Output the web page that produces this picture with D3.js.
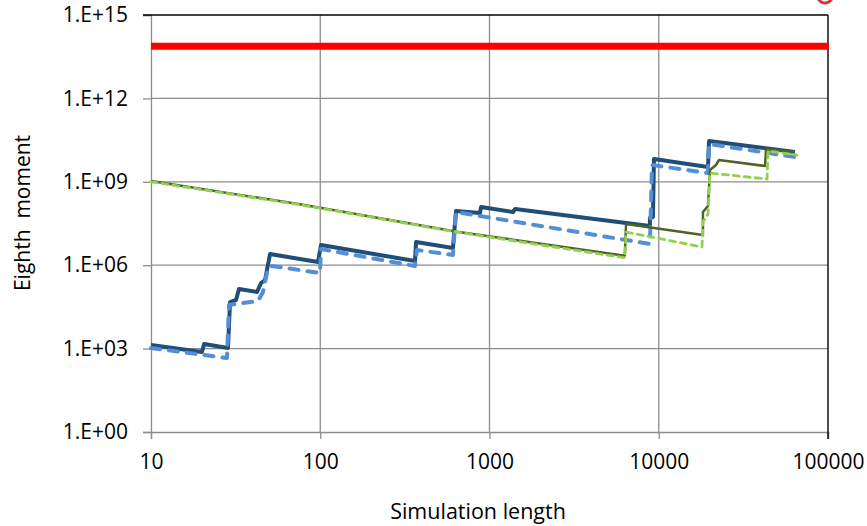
<!DOCTYPE html>
<html>
<head>
<meta charset="utf-8">
<script src="https://cdn.jsdelivr.net/npm/d3@7"></script>
<style>
  body { margin: 0; background: #fff; }
  text { font-family: "Open Sans", sans-serif; fill: #000; }
</style>
</head>
<body>
<svg id="chart" width="867" height="526"></svg>
<script>
// tick values and labels
const xTicks = [10, 100, 1000, 10000, 100000];
const yTicks = [1, 1e3, 1e6, 1e9, 1e12, 1e15];
const yTickLabels = ["1.E+00", "1.E+03", "1.E+06", "1.E+09", "1.E+12", "1.E+15"];

// theoretical level (red line)
const trueMoment = 7.5e13;

// [simulation length, running eighth moment]
const darkBlueSolid = [
  [10, 1350], [20, 755], [20.6, 1460], [28.5, 1050], [29.3, 4.7e4], [31.8, 5.6e4],
  [33.1, 1.39e5], [42.3, 1.09e5], [44.7, 2.29e5], [47.2, 2.94e5], [50.5, 2.53e6],
  [97, 1.3e6], [101, 5.33e6], [363, 1.42e6], [368, 6.84e6], [608, 4.16e6],
  [634, 8.9e7], [879, 7.55e7], [891, 1.24e8], [1377, 8.2e7], [1416, 1.05e8],
  [8870, 2.57e7], [8870, 4.99e7], [9240, 5.42e7], [9370, 6.6e9], [19540, 3.4e9],
  [19820, 2.94e10], [63800, 1.18e10]
];
const lightBlueDashed = [
  [10, 1050], [28.1, 459], [28.9, 3.7e4], [42.9, 5.15e4], [45.9, 1.09e5],
  [49.1, 7.9e5], [51.9, 9.35e5], [99.7, 5.24e5], [101, 3.83e6], [363, 9.35e5],
  [373, 3.52e6], [608, 2.33e6], [634, 8.2e7], [8870, 5.8e6], [9120, 4.02e9],
  [19540, 2.07e9], [19820, 2.29e10], [63800, 7.8e9]
];
const oliveSolid = [
  [10, 1.07e9], [75.9, 1.55e8], [643, 1.6e7], [6300, 2.2e6], [6410, 3.03e7],
  [18240, 1.22e7], [18240, 8.2e7], [19540, 1.35e8], [20090, 2.66e9], [21780, 4.02e9],
  [22690, 6.08e9], [42460, 3.7e9], [43050, 1.51e10], [63800, 1.18e10]
];
const greenDashed = [
  [10, 1.0e9], [75.9, 1.5e8], [643, 1.55e7], [6300, 1.85e6], [6410, 1.56e7],
  [18020, 4.52e6], [18240, 3.58e7], [19540, 6.95e7], [20090, 2.07e9],
  [43650, 1.26e9], [44200, 1.28e10], [65600, 9.2e9]
];

const svg = d3.select("#chart");
const margin = {top: 15, right: 39, bottom: 94, left: 151};
const width = 867 - margin.left - margin.right;
const height = 526 - margin.top - margin.bottom;

const g = svg.append("g")
    .attr("transform", `translate(${margin.left},${margin.top})`);

const x = d3.scaleLog().domain([10, 100000]).range([0, width]);
const y = d3.scaleLog().domain([1, 1e15]).range([height, 0]);

// gridlines
g.append("g")
  .selectAll("line.hgrid")
  .data(yTicks.slice(1, -1))
  .enter()
  .append("line")
    .attr("class", "hgrid")
    .attr("x1", 0).attr("x2", width)
    .attr("y1", (d) => y(d)).attr("y2", (d) => y(d))
    .style("stroke", "#8c8c8c")
    .style("stroke-width", 1.3);

g.append("g")
  .selectAll("line.vgrid")
  .data(xTicks.slice(1, -1))
  .enter()
  .append("line")
    .attr("class", "vgrid")
    .attr("y1", 0).attr("y2", height)
    .attr("x1", (d) => x(d)).attr("x2", (d) => x(d))
    .style("stroke", "#8c8c8c")
    .style("stroke-width", 1.3);

// axes
const xAxis = g.append("g")
    .attr("transform", `translate(0,${height})`)
    .call(d3.axisBottom(x).tickValues(xTicks).tickFormat(d3.format("d")).tickSize(7).tickPadding(15));

const yAxis = g.append("g")
    .call(d3.axisLeft(y).tickValues(yTicks).tickFormat((d, i) => yTickLabels[i]).tickSize(8).tickPadding(15));

[xAxis, yAxis].forEach((ax) => {
  ax.select(".domain").style("stroke", "#8c8c8c").style("stroke-width", 1.3);
  ax.selectAll(".tick line").style("stroke", "#8c8c8c").style("stroke-width", 1.3);
  ax.selectAll("text")
    .style("font-family", "Open Sans")
    .style("font-size", "21px")
    .style("fill", "#000");
});

// top and right frame
g.append("line")
    .attr("x1", -8).attr("x2", width)
    .attr("y1", 0).attr("y2", 0)
    .style("stroke", "#000").style("stroke-width", 1.4);
g.append("line")
    .attr("x1", width).attr("x2", width)
    .attr("y1", 0).attr("y2", height + 7)
    .style("stroke", "#000").style("stroke-width", 1.4);

// red reference line
g.append("line")
    .attr("x1", 0).attr("x2", width + 1)
    .attr("y1", y(trueMoment)).attr("y2", y(trueMoment))
    .style("stroke", "#ff0000")
    .style("stroke-width", 7);

// series
const line = d3.line()
    .x((d) => x(d[0]))
    .y((d) => y(d[1]));

const series = [
  {data: darkBlueSolid, color: "#1f4e79", w: 4, dash: null},
  {data: lightBlueDashed, color: "#558ed5", w: 4, dash: "9,9"},
  {data: oliveSolid, color: "#4f6228", w: 2.5, dash: null},
  {data: greenDashed, color: "#92d050", w: 2.8, dash: "6,5"}
];

g.selectAll("path.series")
  .data(series)
  .enter()
  .append("path")
    .attr("class", "series")
    .attr("d", (d) => line(d.data))
    .style("fill", "none")
    .style("stroke", (d) => d.color)
    .style("stroke-width", (d) => d.w)
    .style("stroke-linejoin", "round")
    .style("stroke-linecap", (d) => d.dash ? "round" : "butt")
    .style("stroke-dasharray", (d) => d.dash);

// axis titles
svg.append("text")
    .attr("x", 478)
    .attr("y", 519)
    .attr("text-anchor", "middle")
    .style("font-size", "21.5px")
    .text("Simulation length");

svg.append("text")
    .attr("transform", "translate(30,213) rotate(-90)")
    .attr("text-anchor", "middle")
    .style("font-size", "21px")
    .style("white-space", "pre")
    .text("Eighth  moment");

// red annotation circle cut off at the top
svg.append("ellipse")
    .attr("cx", 825).attr("cy", -16)
    .attr("rx", 11).attr("ry", 19)
    .style("fill", "none")
    .style("stroke", "#d23a3a")
    .style("stroke-width", 3);
</script>
</body>
</html>
